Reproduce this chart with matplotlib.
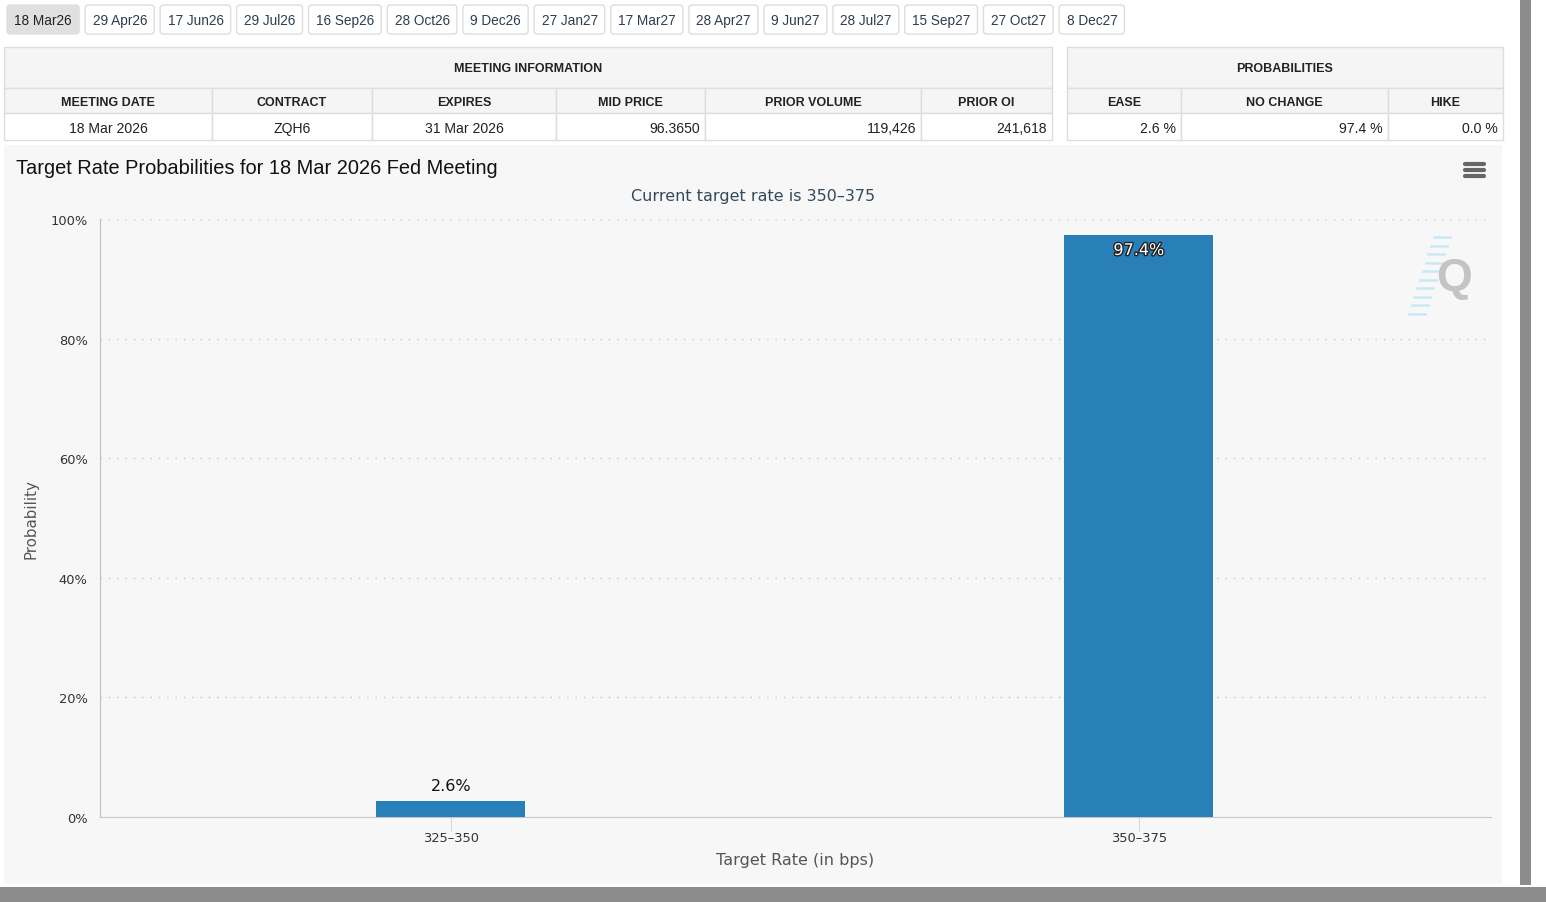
import matplotlib.pyplot as plt
from matplotlib.patches import Rectangle, FancyBboxPatch
import matplotlib.patheffects as pe

# data
tabs = ["18 Mar26", "29 Apr26", "17 Jun26", "29 Jul26", "16 Sep26", "28 Oct26", "9 Dec26",
        "27 Jan27", "17 Mar27", "28 Apr27", "9 Jun27", "28 Jul27", "15 Sep27", "27 Oct27", "8 Dec27"]
meeting_cols = ["MEETING DATE", "CONTRACT", "EXPIRES", "MID PRICE", "PRIOR VOLUME", "PRIOR OI"]
meeting_vals = ["18 Mar 2026", "ZQH6", "31 Mar 2026", "96.3650", "119,426", "241,618"]
prob_cols = ["EASE", "NO CHANGE", "HIKE"]
prob_vals = ["2.6 %", "97.4 %", "0.0 %"]
rates = ["325\u2013350", "350\u2013375"]
probs = [2.6, 97.4]

# layout (pixels)
W, H = 1546, 903
meeting_w = [208, 160, 184, 149, 216, 131]
meeting_align = ["center", "center", "center", "right", "right", "right"]
prob_w = [114, 207, 115]

px = 0.72  # px -> pt at 100 dpi
sans = ["Liberation Sans", "DejaVu Sans"]
chart_font = ["DejaVu Sans"]

fig = plt.figure(figsize=(W / 100, H / 100), dpi=100)
fig.patch.set_facecolor("white")
page = fig.add_axes([0, 0, 1, 1])
page.set_xlim(0, W)
page.set_ylim(H, 0)
page.axis("off")

# scrollbars
page.add_patch(Rectangle((1520, 0), 11, 886, color="#8c8c8c", lw=0))
page.add_patch(Rectangle((0, 888), W, 15, color="#8c8c8c", lw=0))

# tabs
fig.canvas.draw()
r = fig.canvas.get_renderer()
x = 7
for i, t in enumerate(tabs):
    txt = page.text(x + 7.5, 21, t, fontsize=13.6 * px, family=sans, va="center", ha="left",
                    color="#222222" if i == 0 else "#2c3e50", zorder=3)
    tw = txt.get_window_extent(renderer=r).width
    bw = tw + 14.5
    page.add_patch(FancyBboxPatch((x, 6), bw, 29, boxstyle="round,pad=0,rounding_size=3",
                                  fc="#e0e0e0" if i == 0 else "white",
                                  ec="#e0e0e0" if i == 0 else "#dddddd", lw=1, zorder=2))
    x += bw + 6


def table(x0, widths, title, cols, vals, aligns):
    total = sum(widths)
    page.add_patch(Rectangle((x0, 48), total, 41, fc="#f5f5f5", ec="#dddddd", lw=1))
    page.text(x0 + total / 2, 69, title, fontsize=12.5 * px, family=sans, weight="bold",
              ha="center", va="center", color="#222222")
    cx = x0
    for w, c, v, a in zip(widths, cols, vals, aligns):
        page.add_patch(Rectangle((cx, 89), w, 25, fc="#f5f5f5", ec="#dddddd", lw=1))
        page.add_patch(Rectangle((cx, 114), w, 27, fc="white", ec="#dddddd", lw=1))
        page.text(cx + w / 2, 102.5, c, fontsize=12.5 * px, family=sans, weight="bold",
                  ha="center", va="center", color="#222222")
        tx = cx + w / 2 if a == "center" else cx + w - 5
        page.text(tx, 129, v, fontsize=14 * px, family=sans, ha=a, va="center", color="#222222")
        cx += w


table(4, meeting_w, "MEETING INFORMATION", meeting_cols, meeting_vals, meeting_align)
table(1067, prob_w, "PROBABILITIES", prob_cols, prob_vals, ["right"] * 3)

# chart container
page.add_patch(Rectangle((4, 146), 1498, 739, fc="#f7f7f7", ec="none"))
page.text(16, 168, "Target Rate Probabilities for 18 Mar 2026 Fed Meeting", fontsize=20 * px,
          family=sans, ha="left", va="center", color="#111111")
page.text(753, 197, "Current target rate is 350\u2013375", fontsize=16 * px, family=chart_font,
          ha="center", va="center", color="#34495e")
for yy in (165, 171, 177):
    page.plot([1465, 1484], [yy, yy], color="#666666", lw=3, solid_capstyle="round")

# watermark
for k in range(10):
    yy = 238 + k * 8.5
    xc = 1444 - (yy - 238) * 0.33
    page.plot([xc - 10, xc + 6], [yy, yy], color="#bfe6f5", lw=1.8, alpha=0.85)
page.text(1454, 279, "Q", fontsize=46 * px, family=sans, weight="bold", ha="center", va="center",
          color="#c4c4c4")
page.text(795, 861, "Target Rate (in bps)", fontsize=16 * px, family=chart_font,
          ha="center", va="center", color="#555555")
page.text(31, 519, "Probability", fontsize=15 * px, family=chart_font, rotation=90,
          ha="center", va="center", color="#555555")

# chart axes
ax = fig.add_axes([100 / W, (H - 818) / H, 1391 / W, 598 / H])
ax.set_facecolor("none")
ax.set_xlim(-0.51, 1.512)
ax.set_ylim(0, 100)
xs = list(range(len(rates)))
bars = ax.bar(xs, probs, width=0.2166, color="#2980b9", zorder=3)
ax.set_yticks([0, 20, 40, 60, 80, 100])
ax.set_yticklabels([f"{v}%" for v in [0, 20, 40, 60, 80, 100]], fontsize=13 * px,
                   family=chart_font, color="#333333")
ax.set_xticks(xs)
ax.set_xticklabels(rates, fontsize=13 * px, family=chart_font, color="#333333")
ax.tick_params(axis="y", length=0, pad=9)
ax.tick_params(axis="x", length=10, color="#d8d8d8", pad=0)
ax.grid(axis="y", linestyle=(0, (1, 5)), color="#c8c8c8", lw=1)
for s in ["top", "right"]:
    ax.spines[s].set_visible(False)
ax.spines["left"].set_color("#c0c0c0")
ax.spines["bottom"].set_color("#c8c8c8")
ax.spines["left"].set_zorder(4)

for xi, p in zip(xs, probs):
    if p > 50:
        ax.text(xi, p - 1.4, f"{p}%", ha="center", va="top", fontsize=16 * px, family=chart_font,
                color="white", zorder=5,
                path_effects=[pe.withStroke(linewidth=2, foreground="#222222")])
    else:
        ax.text(xi, p + 1.4, f"{p}%", ha="center", va="bottom", fontsize=16 * px,
                family=chart_font, color="#111111", zorder=5)

fig.savefig("out.png", dpi=100)
